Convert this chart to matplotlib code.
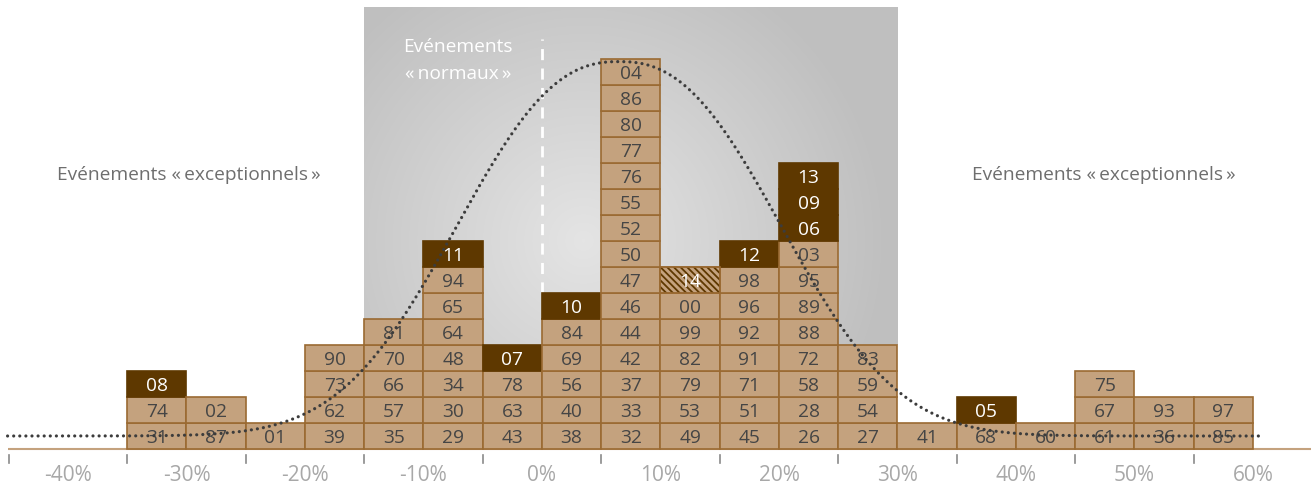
import numpy as np
import matplotlib
matplotlib.use("Agg")
import matplotlib.pyplot as plt

plt.rcParams['font.family'] = ['Open Sans', 'DejaVu Sans']
plt.rcParams['hatch.linewidth'] = 1.3

# ---- data ----
bin_lefts = [-35, -30, -25, -20, -15, -10, -5, 0, 5, 10, 15, 20, 25, 30, 35, 40, 45, 50, 55]
bin_width = 5
years_by_bin = [
    ['31', '74', '08'],
    ['87', '02'],
    ['01'],
    ['39', '62', '73', '90'],
    ['35', '57', '66', '70', '81'],
    ['29', '30', '34', '48', '64', '65', '94', '11'],
    ['43', '63', '78', '07'],
    ['38', '40', '56', '69', '84', '10'],
    ['32', '33', '37', '42', '44', '46', '47', '50', '52', '55', '76', '77', '80', '86', '04'],
    ['49', '53', '79', '82', '99', '00', '14'],
    ['45', '51', '71', '91', '92', '96', '98', '12'],
    ['26', '28', '58', '72', '88', '89', '95', '03', '06', '09', '13'],
    ['27', '54', '59', '83'],
    ['41'],
    ['68', '05'],
    ['60'],
    ['61', '67', '75'],
    ['36', '93'],
    ['85', '97'],
]
dark_years = ['08', '11', '07', '10', '12', '06', '09', '13', '05']
hatched_years = ['14']

tick_marks = [-45, -35, -25, -15, -5, 5, 15, 25, 35, 45, 55, 65]
tick_labels_pos = [-40, -30, -20, -10, 0, 10, 20, 30, 40, 50, 60]
tick_labels = ['-40%', '-30%', '-20%', '-10%', '0%', '10%', '20%', '30%', '40%', '50%', '60%']

label_exceptional = 'Evénements «\u2009exceptionnels\u2009»'
label_normal_1 = 'Evénements'
label_normal_2 = '«\u2009normaux\u2009»'

# fitted distribution curve parameters
curve_base = 0.5
curve_peak = 14.4
curve_center = 6.5
curve_scale = 17.2
curve_power = 2.4
curve_range = (-45.1, 60.6)

normal_zone = (-15, 30)

# ---- colours ----
TAN = '#C4A27E'
EDGE = '#9A6A32'
DARK = '#5E3800'
TXT = '#454545'

W, H = 1311, 489
fig = plt.figure(figsize=(W / 100, H / 100), dpi=100)
ax = fig.add_axes([0, 0, 1, 1])
px_per_pct = 11.85
px_per_row = 26.0
x0 = -542 / px_per_pct
x1 = (W - 542) / px_per_pct
y1 = 450 / px_per_row
y0 = -(H - 450) / px_per_row
ax.set_xlim(x0, x1)
ax.set_ylim(y0, y1)
ax.axis('off')

# ---- gray "normal" zone with radial gradient ----
zone_bottom, zone_top = 4, 17.0
nx, ny = 400, 300
gx = np.linspace(normal_zone[0], normal_zone[1], nx)
gy = np.linspace(zone_bottom, zone_top, ny)
GX, GY = np.meshgrid(gx, gy)
cx, cy = 3.5, 8.0
dist = np.hypot((GX - cx) * px_per_pct, (GY - cy) * px_per_row)
t = np.clip(dist / 300.0, 0, 1)
c_in, c_out = 0.895, 0.752
val = c_in + (c_out - c_in) * t
img = np.dstack([val, val, val])
ax.imshow(img, extent=[normal_zone[0], normal_zone[1], zone_bottom, zone_top],
          origin='lower', aspect='auto', zorder=0, interpolation='bilinear')

# dashed white line at 0%
ax.plot([0, 0], [6.0, (450 - 40) / px_per_row], color='white', lw=2,
        dashes=(4, 3), zorder=1)
ax.text(-7.1, (450 - 47) / px_per_row, label_normal_1, color='white', fontsize=13.8,
        ha='center', va='center', zorder=1)
ax.text(-7.1, (450 - 74) / px_per_row, label_normal_2, color='white', fontsize=13.8,
        ha='center', va='center', zorder=1)

# side labels
ax.text(-29.8, (450 - 175) / px_per_row, label_exceptional, color='#6E6E6E',
        fontsize=13.8, ha='center', va='center')
ax.text(47.4, (450 - 175) / px_per_row, label_exceptional, color='#6E6E6E',
        fontsize=13.8, ha='center', va='center')

# ---- baseline & ticks ----
ax.plot([-45.1, x1], [0, 0], color=TAN, lw=1.5, zorder=1, solid_capstyle='butt')
for tm in tick_marks:
    ax.plot([tm, tm], [-6 / px_per_row, -14 / px_per_row], color='#8A8A8A', lw=1.2)
for tp, tl in zip(tick_labels_pos, tick_labels):
    ax.text(tp, -(476 - 450) / px_per_row, tl, color='#A8A8A8', fontsize=15,
            ha='center', va='center')

# ---- year boxes ----
for left, years in zip(bin_lefts, years_by_bin):
    for row, yr in enumerate(years):
        if yr in dark_years:
            ax.bar(left, 1, width=bin_width, bottom=row, align='edge', color=DARK,
                   edgecolor=DARK, linewidth=1.2, zorder=2)
            tc = 'white'
        elif yr in hatched_years:
            ax.bar(left, 1, width=bin_width, bottom=row, align='edge', color=TAN,
                   edgecolor=EDGE, linewidth=1.2, zorder=2)
            ax.bar(left, 1, width=bin_width, bottom=row, align='edge', color='none',
                   edgecolor=DARK, linewidth=0, hatch='\\\\\\\\\\', zorder=2.1)
            ax.bar(left, 1, width=bin_width, bottom=row, align='edge', color='none',
                   edgecolor=EDGE, linewidth=1.2, zorder=2.2)
            tc = 'white'
        else:
            ax.bar(left, 1, width=bin_width, bottom=row, align='edge', color=TAN,
                   edgecolor=EDGE, linewidth=1.2, zorder=2)
            tc = TXT
        ax.text(left + bin_width / 2, row + 0.47, yr, color=tc, fontsize=13.8,
                ha='center', va='center', zorder=3)

# ---- fitted curve ----
xs = np.linspace(curve_range[0], curve_range[1], 800)
ys = curve_base + curve_peak * np.exp(-(np.abs(xs - curve_center) / curve_scale) ** curve_power)
ax.plot(xs, ys, color='#3C3C3C', lw=2.3, linestyle=(0, (0.01, 1.9)),
        dash_capstyle='round', zorder=5)

fig.savefig('out.png', dpi=100)
